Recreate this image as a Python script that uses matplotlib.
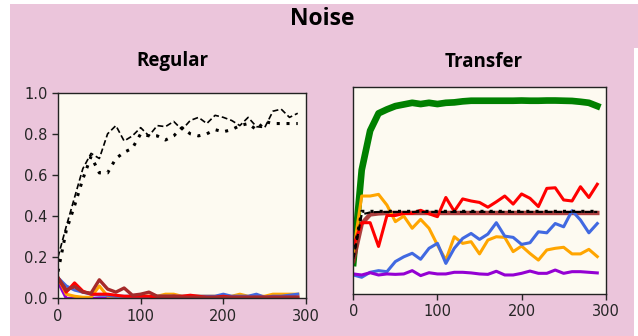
import matplotlib
matplotlib.use("Agg")
import matplotlib.pyplot as plt
from matplotlib.patches import Rectangle

# ---------------- data ----------------
steps = list(range(0, 300, 10))

# Regular panel
reg_dashed = [0.20, 0.35, 0.49, 0.63, 0.705, 0.68, 0.80, 0.84, 0.765, 0.79,
              0.83, 0.79, 0.84, 0.835, 0.86, 0.82, 0.865, 0.88, 0.85, 0.89,
              0.88, 0.865, 0.84, 0.88, 0.835, 0.83, 0.91, 0.92, 0.88, 0.90]
reg_dotted = [0.13, 0.33, 0.45, 0.58, 0.69, 0.61, 0.61, 0.68, 0.71, 0.73,
              0.80, 0.79, 0.79, 0.77, 0.79, 0.83, 0.80, 0.79, 0.80, 0.82,
              0.81, 0.82, 0.84, 0.85, 0.82, 0.86, 0.85, 0.85, 0.85, 0.85]
reg_purple = [0.08, 0.0, 0.0, 0.0, 0.0, 0.0, 0.0, 0.0, 0.0, 0.0,
              0.0, 0.0, 0.0, 0.0, 0.0, 0.0, 0.0, 0.0, 0.0, 0.0,
              0.0, 0.0, 0.0, 0.0, 0.0, 0.0, 0.0, 0.0, 0.0, 0.0]
reg_orange = [0.10, 0.02, 0.01, 0.005, 0.005, 0.06, 0.01, 0.01, 0.005, 0.01,
              0.01, 0.01, 0.01, 0.02, 0.02, 0.01, 0.01, 0.01, 0.01, 0.01,
              0.01, 0.01, 0.02, 0.01, 0.01, 0.01, 0.02, 0.02, 0.02, 0.02]
reg_blue = [0.10, 0.06, 0.04, 0.03, 0.02, 0.015, 0.015, 0.01, 0.01, 0.01,
            0.01, 0.005, 0.01, 0.01, 0.01, 0.01, 0.01, 0.01, 0.01, 0.01,
            0.02, 0.01, 0.01, 0.01, 0.02, 0.005, 0.01, 0.01, 0.015, 0.02]
reg_red = [0.10, 0.03, 0.075, 0.035, 0.02, 0.02, 0.02, 0.015, 0.01, 0.01,
           0.01, 0.01, 0.005, 0.005, 0.01, 0.01, 0.015, 0.01, 0.005, 0.005,
           0.01, 0.005, 0.005, 0.005, 0.005, 0.005, 0.005, 0.005, 0.005, 0.005]
reg_brown = [0.10, 0.04, 0.057, 0.03, 0.025, 0.09, 0.045, 0.03, 0.05, 0.015,
             0.02, 0.03, 0.01, 0.01, 0.01, 0.005, 0.005, 0.005, 0.005, 0.005,
             0.005, 0.005, 0.005, 0.005, 0.005, 0.005, 0.005, 0.005, 0.005, 0.005]

# Transfer panel
tr_green = [0.15, 0.60, 0.79, 0.874, 0.893, 0.909, 0.917, 0.925, 0.919, 0.925,
            0.919, 0.925, 0.927, 0.932, 0.935, 0.935, 0.935, 0.935, 0.935, 0.935,
            0.936, 0.935, 0.935, 0.936, 0.936, 0.935, 0.934, 0.930, 0.925, 0.909]
tr_brown = [0.16, 0.34, 0.385, 0.39, 0.392, 0.392, 0.392, 0.392, 0.392, 0.392,
            0.392, 0.392, 0.392, 0.392, 0.392, 0.392, 0.392, 0.392, 0.392, 0.392,
            0.392, 0.392, 0.392, 0.392, 0.392, 0.392, 0.392, 0.392, 0.392, 0.392]
tr_dashed = [0.17, 0.385, 0.395, 0.397, 0.397, 0.397, 0.397, 0.397, 0.397, 0.397,
             0.397, 0.397, 0.397, 0.397, 0.397, 0.397, 0.397, 0.397, 0.397, 0.397,
             0.397, 0.397, 0.397, 0.397, 0.397, 0.397, 0.397, 0.397, 0.397, 0.397]
tr_dotted = [0.18, 0.40, 0.40, 0.40, 0.40, 0.40, 0.40, 0.40, 0.40, 0.40,
             0.40, 0.40, 0.40, 0.40, 0.40, 0.40, 0.40, 0.40, 0.40, 0.40,
             0.40, 0.40, 0.40, 0.40, 0.40, 0.40, 0.40, 0.40, 0.40, 0.40]
tr_orange = [0.20, 0.474, 0.474, 0.482, 0.43, 0.35, 0.377, 0.318, 0.361, 0.318,
             0.237, 0.164, 0.277, 0.245, 0.253, 0.194, 0.261, 0.277, 0.274, 0.205,
             0.232, 0.196, 0.164, 0.213, 0.221, 0.226, 0.194, 0.194, 0.216, 0.181]
tr_blue = [0.092, 0.081, 0.105, 0.113, 0.108, 0.157, 0.18, 0.197, 0.168, 0.221,
           0.245, 0.148, 0.221, 0.269, 0.293, 0.264, 0.29, 0.345, 0.28, 0.274,
           0.24, 0.248, 0.301, 0.296, 0.341, 0.325, 0.403, 0.358, 0.296, 0.341]
tr_purple = [0.097, 0.092, 0.103, 0.092, 0.097, 0.095, 0.097, 0.113, 0.089, 0.103,
             0.097, 0.097, 0.105, 0.105, 0.102, 0.097, 0.095, 0.110, 0.092, 0.092,
             0.100, 0.111, 0.100, 0.100, 0.116, 0.100, 0.108, 0.108, 0.105, 0.102]
tr_red = [0.23, 0.345, 0.345, 0.23, 0.38, 0.38, 0.39, 0.39, 0.405, 0.388,
          0.374, 0.467, 0.40, 0.46, 0.45, 0.443, 0.42, 0.446, 0.474, 0.435,
          0.484, 0.463, 0.423, 0.511, 0.514, 0.455, 0.45, 0.519, 0.467, 0.531]

# ---------------- figure ----------------
W, H = 638, 336
fig = plt.figure(figsize=(W / 100, H / 100), dpi=100, facecolor="white")

pink = "#ebc5db"
fig.patches.append(Rectangle((10 / W, 0), (634 - 10) / W, 1 - 4 / H,
                             transform=fig.transFigure, facecolor=pink,
                             edgecolor="none", zorder=-5))
fig.patches.append(Rectangle((634 / W, 1 - 48 / H), 4 / W, (48 - 4) / H,
                             transform=fig.transFigure, facecolor=pink,
                             edgecolor="none", zorder=-5))

cream = "#fdfaf1"
ax1 = fig.add_axes([58 / W, 1 - 298.3 / H, (306 - 58) / W, (298.3 - 92.7) / H])
ax2 = fig.add_axes([353.3 / W, 1 - 294 / H, (605.7 - 353.3) / W, (294 - 87.3) / H])

for ax in (ax1, ax2):
    ax.set_zorder(2)
    ax.set_facecolor(cream)
    ax.set_xlim(0, 300)
    ax.set_ylim(0, 1)
    ax.set_xticks([0, 100, 200, 300])
    ax.tick_params(labelsize=10.5, colors="#262626", length=4, width=1.0)
    for s in ax.spines.values():
        s.set_linewidth(1.0)
        s.set_color("#222222")

# Regular
ax1.plot(steps, reg_purple, color="darkviolet", lw=2.2)
ax1.plot(steps, reg_orange, color="orange", lw=2.2)
ax1.plot(steps, reg_blue, color="royalblue", lw=2.2)
ax1.plot(steps, reg_red, color="red", lw=2.2)
ax1.plot(steps, reg_brown, color="brown", lw=2.4)
ax1.plot(steps, reg_dashed, color="black", lw=1.2, ls=(0, (3.5, 1.8)))
ax1.plot(steps, reg_dotted, color="black", lw=2.2, ls=(0, (1, 2.2)))
ax1.set_yticks([0.0, 0.2, 0.4, 0.6, 0.8, 1.0])

# Transfer
ax2.plot(steps, tr_green, color="green", lw=4.8)
ax2.plot(steps, tr_brown, color="brown", lw=3.2, alpha=0.9)
ax2.plot(steps, tr_orange, color="orange", lw=2.2)
ax2.plot(steps, tr_blue, color="royalblue", lw=2.2)
ax2.plot(steps, tr_purple, color="darkviolet", lw=2.2)
ax2.plot(steps, tr_red, color="red", lw=2.2)
ax2.plot(steps, tr_dashed, color="black", lw=1.5, ls=(0, (3, 1.6)))
ax2.plot(steps, tr_dotted, color="black", lw=2.2, ls=(0, (1, 2)))
ax2.set_yticks([])

fig.text(322 / W, 1 - 19 / H, "Noise", ha="center", va="center",
         fontsize=16.5, fontweight="bold", family="Open Sans")
fig.text(172 / W, 1 - 61 / H, "Regular", ha="center", va="center",
         fontsize=13.5, fontweight="bold", family="Open Sans")
fig.text(484 / W, 1 - 62 / H, "Transfer", ha="center", va="center",
         fontsize=13.5, fontweight="bold", family="Open Sans")

fig.savefig("out.png", dpi=100, facecolor=fig.get_facecolor())
